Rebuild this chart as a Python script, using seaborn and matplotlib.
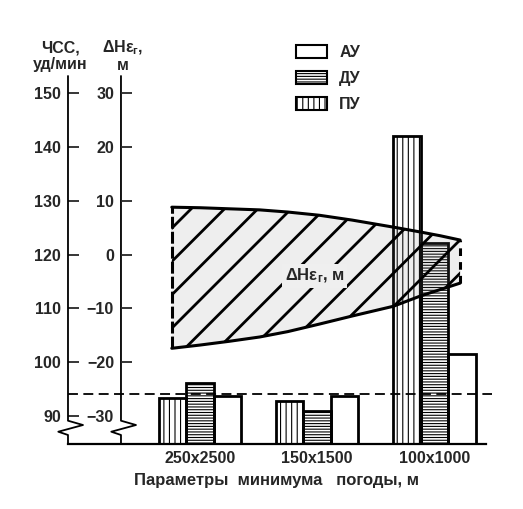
import numpy as np
import pandas as pd
import matplotlib
matplotlib.use("Agg")
import matplotlib.pyplot as plt
import seaborn as sns
from matplotlib.patches import Patch

# Данные (ЧСС, уд/мин) по режимам управления
params = ["250x2500", "150x1500", "100x1000"]
modes = ["ПУ", "ДУ", "АУ"]
hr_pu = [93.4, 92.8, 142.0]
hr_du = [96.2, 90.9, 122.2]
hr_au = [93.7, 93.7, 101.6]
hr_dashed = 94.1

# Зона ΔHεг (м) по оси параметров
band_x = [-0.24, 0.0, 0.25, 0.51, 0.75, 1.02, 1.3, 1.65, 1.88, 2.05, 2.22]
band_top = [8.8, 8.7, 8.5, 8.3, 7.9, 7.3, 6.4, 5.1, 4.2, 3.5, 2.7]
band_low = [-17.4, -16.8, -16.1, -15.3, -14.3, -12.9, -11.4, -9.6, -7.7, -6.5, -5.3]

hr_ticks = [90, 100, 110, 120, 130, 140, 150]
dh_ticks = [-30, -20, -10, 0, 10, 20, 30]

sns.set_theme(style="white")
plt.rcParams["font.family"] = ["Liberation Sans", "DejaVu Sans"]
plt.rcParams["font.weight"] = "bold"
plt.rcParams["axes.edgecolor"] = "black"
plt.rcParams["mathtext.fontset"] = "custom"
plt.rcParams["mathtext.rm"] = "Liberation Sans:bold"
plt.rcParams["mathtext.it"] = "Liberation Sans:bold"
plt.rcParams["mathtext.bf"] = "Liberation Sans:bold"
plt.rcParams["hatch.linewidth"] = 0.8

df = pd.DataFrame({
    "param": params * 3,
    "mode": ["ПУ"] * 3 + ["ДУ"] * 3 + ["АУ"] * 3,
    "hr": hr_pu + hr_du + hr_au,
})

fig = plt.figure(figsize=(5.23, 5.09), dpi=100)
ax = fig.add_axes([0.130, 0.1277, 0.799, 0.723])

sns.barplot(data=df, x="param", y="hr", hue="mode", order=params,
            hue_order=modes, palette=["white"] * 3, edgecolor="black",
            linewidth=2, width=0.705, errorbar=None, legend=False, ax=ax,
            zorder=2)
hatches = {"ПУ": "|||", "ДУ": "------", "АУ": ""}
for cont, m in zip(ax.containers, modes):
    for p in cont.patches:
        p.set_facecolor("none")
        p.set_hatch(hatches[m])

ax.set_xlim(-1.126, 2.44)
ax.set_ylim(84.83, 153.16)
ax.set_xlabel("Параметры  минимума   погоды, м", fontsize=12,
              fontweight="bold", labelpad=5)
ax.set_ylabel("")
ax.tick_params(axis="x", length=0, labelsize=11.5, pad=5)
for lab in ax.get_xticklabels():
    lab.set_fontweight("bold")

ax.set_yticks(hr_ticks)
ax.tick_params(axis="y", direction="in", length=8, width=1.3, pad=5,
               labelsize=11.5, left=True)
ax.yaxis.get_major_ticks()[0].tick1line.set_visible(False)
for s in ["left", "right", "top"]:
    ax.spines[s].set_visible(False)
ax.spines["bottom"].set_linewidth(1.6)

ax.axhline(hr_dashed, xmin=0, xmax=1.014, color="black", lw=1.3,
           linestyle=(0, (5.5, 3)), clip_on=False, zorder=1)

# Вторая шкала ΔHεг
ax2 = ax.twinx()
ax2.set_ylim(84.83 - 120, 153.16 - 120)
ax2.spines["left"].set_position(("axes", 0.1268))
for s in ["left", "right", "top", "bottom"]:
    ax2.spines[s].set_visible(False)
ax2.set_yticks(dh_ticks)
ax2.tick_params(axis="y", left=True, right=False, labelleft=True,
                labelright=False, direction="in", length=8, width=1.3,
                pad=5, labelsize=11.5)
ax2.yaxis.get_major_ticks()[0].tick1line.set_visible(False)
ax2.grid(False)

# Оси с разрывом
for x0 in [0.0, 0.1268]:
    ax.plot([x0, x0, x0 + 0.0359, x0 - 0.0232, x0, x0],
            [1.0, 0.0633, 0.0516, 0.0334, 0.0245, 0.0],
            transform=ax.transAxes, color="black", lw=1.3, clip_on=False)

# Зона ΔHεг
band_face = (0.5, 0.5, 0.5, 0.13)
ax2.fill_between(band_x, band_low, band_top, facecolor=band_face,
                 edgecolor="none", zorder=1)
with plt.rc_context({"hatch.linewidth": 2.0}):
    hb = ax2.fill_between(band_x, band_low, band_top, facecolor="none",
                          edgecolor="black", hatch="/", linewidth=0, zorder=2)
    if hasattr(hb, "set_hatch_linewidth"):
        hb.set_hatch_linewidth(2.0)
ax2.plot(band_x, band_top, color="black", lw=2.2, zorder=3)
ax2.plot(band_x, band_low, color="black", lw=2.2, zorder=3)
ax2.plot([band_x[0], band_x[0]], [band_low[0], band_top[0]], color="black",
         lw=2.2, linestyle=(0, (3.9, 1)), zorder=3)
ax2.plot([band_x[-1], band_x[-1]], [band_low[-1], band_top[-1]], color="black",
         lw=2.2, linestyle=(0, (2.5, 2)), zorder=3)
ax2.text(0.98, -3.9, "ΔHε$_\\mathregular{г}$, м", ha="center", va="center",
         fontsize=12, fontweight="bold", zorder=4,
         bbox=dict(facecolor="#efefef", edgecolor="none", pad=2))

# Заголовки шкал
fig.text(60 / 523, 1 - 56 / 509, "ЧСС,\nуд/мин", ha="center", va="center",
         fontsize=11.5, fontweight="bold", linespacing=1.1)
fig.text(123 / 523, 1 - 56 / 509, "ΔHε$_\\mathregular{г}$,\nм", ha="center",
         va="center", fontsize=11.5, fontweight="bold", linespacing=1.1)

# Легенда
leg_handles = [Patch(facecolor="white", edgecolor="black", lw=1.5, hatch=hatches[m])
               for m in ["АУ", "ДУ", "ПУ"]]
fig.legend(leg_handles, ["АУ", "ДУ", "ПУ"], loc="upper left",
           bbox_to_anchor=(288 / 523, 1 - 37 / 509), frameon=False,
           borderpad=0, handlelength=1.95, handleheight=0.85,
           handletextpad=0.75, labelspacing=0.7,
           prop={"weight": "bold", "size": 11.5})

fig.savefig("out.png", dpi=100)
